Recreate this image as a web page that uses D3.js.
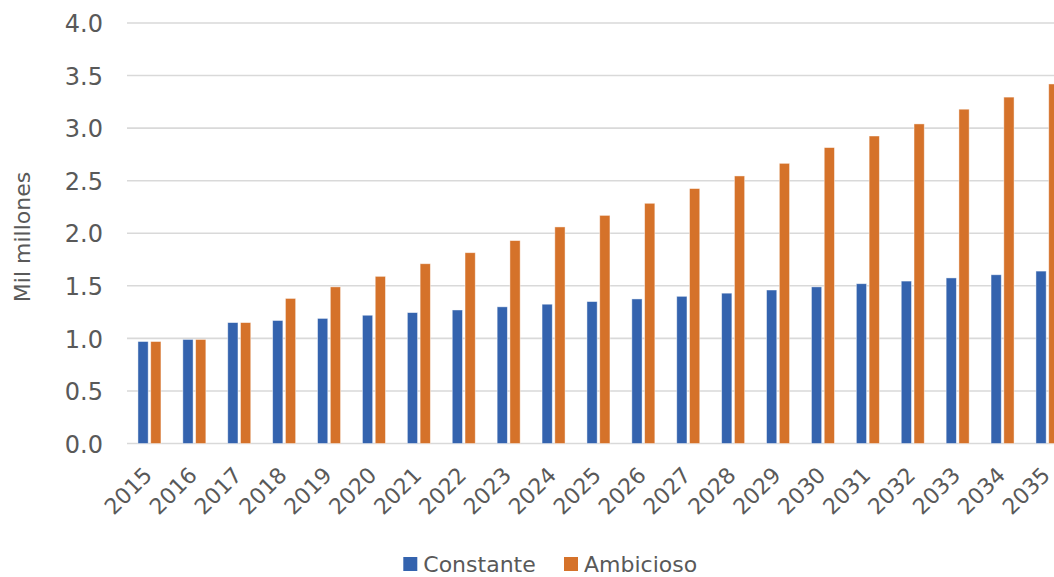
<!DOCTYPE html>
<html>
<head>
<meta charset="utf-8">
<script src="https://cdn.jsdelivr.net/npm/d3@7"></script>
<style>
  html, body { margin: 0; padding: 0; background: #fff; overflow: hidden; }
  svg { display: block; }
  text { font-family: "DejaVu Sans", sans-serif; fill: #595959; }
</style>
</head>
<body>
<script>
// Population projection, two scenarios (thousand millions)
const years = ["2015","2016","2017","2018","2019","2020","2021","2022","2023","2024","2025",
               "2026","2027","2028","2029","2030","2031","2032","2033","2034","2035"];
const constante = [0.97, 0.99, 1.15, 1.17, 1.19, 1.22, 1.245, 1.27, 1.30, 1.325, 1.35,
                   1.375, 1.40, 1.43, 1.46, 1.49, 1.52, 1.545, 1.575, 1.605, 1.64];
const ambicioso = [0.97, 0.99, 1.15, 1.38, 1.49, 1.59, 1.71, 1.815, 1.93, 2.06, 2.17,
                   2.285, 2.425, 2.545, 2.665, 2.815, 2.925, 3.04, 3.18, 3.295, 3.42];
const seriesNames = ["Constante", "Ambicioso"];
const seriesColors = ["#3463ae", "#d5722a"];
const yTicks = [0, 0.5, 1.0, 1.5, 2.0, 2.5, 3.0, 3.5, 4.0];
const yTitle = "Mil millones";

const W = 1054, H = 577;
const svg = d3.select("body").append("svg").attr("width", W).attr("height", H);

const plotLeft = 127, step = 44.9;
const x0 = d3.scaleBand().domain(years).range([plotLeft, plotLeft + step * years.length]).padding(0);
const bw = x0.bandwidth();
const x1 = d3.scaleBand().domain(seriesNames).range([bw / 2 - 11.5, bw / 2 + 11.5]).paddingInner(0.2);
const y = d3.scaleLinear().domain([0, 4]).range([443.5, 23]);

// gridlines
svg.append("g").selectAll("line").data(yTicks).join("line")
  .attr("x1", plotLeft).attr("x2", W)
  .attr("y1", d => y(d)).attr("y2", d => y(d))
  .attr("stroke", "#d9d9d9").attr("stroke-width", 1.6);

// y tick labels
const yAxis = d3.axisLeft(y).tickValues(yTicks).tickFormat(d3.format(".1f")).tickSize(0).tickPadding(0);
const gy = svg.append("g").attr("transform", "translate(103,0)").call(yAxis);
gy.select(".domain").remove();
gy.selectAll("text")
  .attr("font-family", "DejaVu Sans").attr("font-size", 24).attr("fill", "#595959")
  .attr("dy", null).attr("y", 8.7).attr("text-anchor", "end");

// y title
svg.append("text")
  .attr("transform", "translate(30,237) rotate(-90)")
  .attr("text-anchor", "middle")
  .attr("font-size", 22)
  .text(yTitle);

// bars
const rows = years.map((yr, i) => ({ year: yr, vals: [constante[i], ambicioso[i]] }));
const groups = svg.append("g").selectAll("g").data(rows).join("g")
  .attr("transform", d => `translate(${x0(d.year)},0)`);
groups.selectAll("rect").data(d => d.vals.map((v, j) => ({ v, j }))).join("rect")
  .attr("x", d => x1(seriesNames[d.j]))
  .attr("width", x1.bandwidth())
  .attr("y", d => y(d.v))
  .attr("height", d => y(0) - y(d.v))
  .attr("fill", d => seriesColors[d.j])
  .attr("stroke", "rgba(255,255,255,0.55)")
  .attr("stroke-width", 0.8);

// x labels
const xAxis = d3.axisBottom(x0).tickSize(0).tickPadding(0);
const gx = svg.append("g").attr("transform", "translate(0,443.5)").call(xAxis);
gx.select(".domain").remove();
gx.selectAll("text")
  .attr("font-family", "DejaVu Sans").attr("font-size", 22).attr("fill", "#595959")
  .attr("y", null).attr("dy", null)
  .attr("text-anchor", "end")
  .attr("transform", "translate(4,33) rotate(-45)");

// legend
const legendX = [403.3, 564];
const lg = svg.append("g").selectAll("g").data(seriesNames).join("g")
  .attr("transform", (d, i) => `translate(${legendX[i]},557)`);
lg.append("rect").attr("width", 14).attr("height", 14).attr("fill", (d, i) => seriesColors[i]);
lg.append("text").attr("x", 20).attr("y", 14.5).attr("font-size", 22).text(d => d);
</script>
</body>
</html>
